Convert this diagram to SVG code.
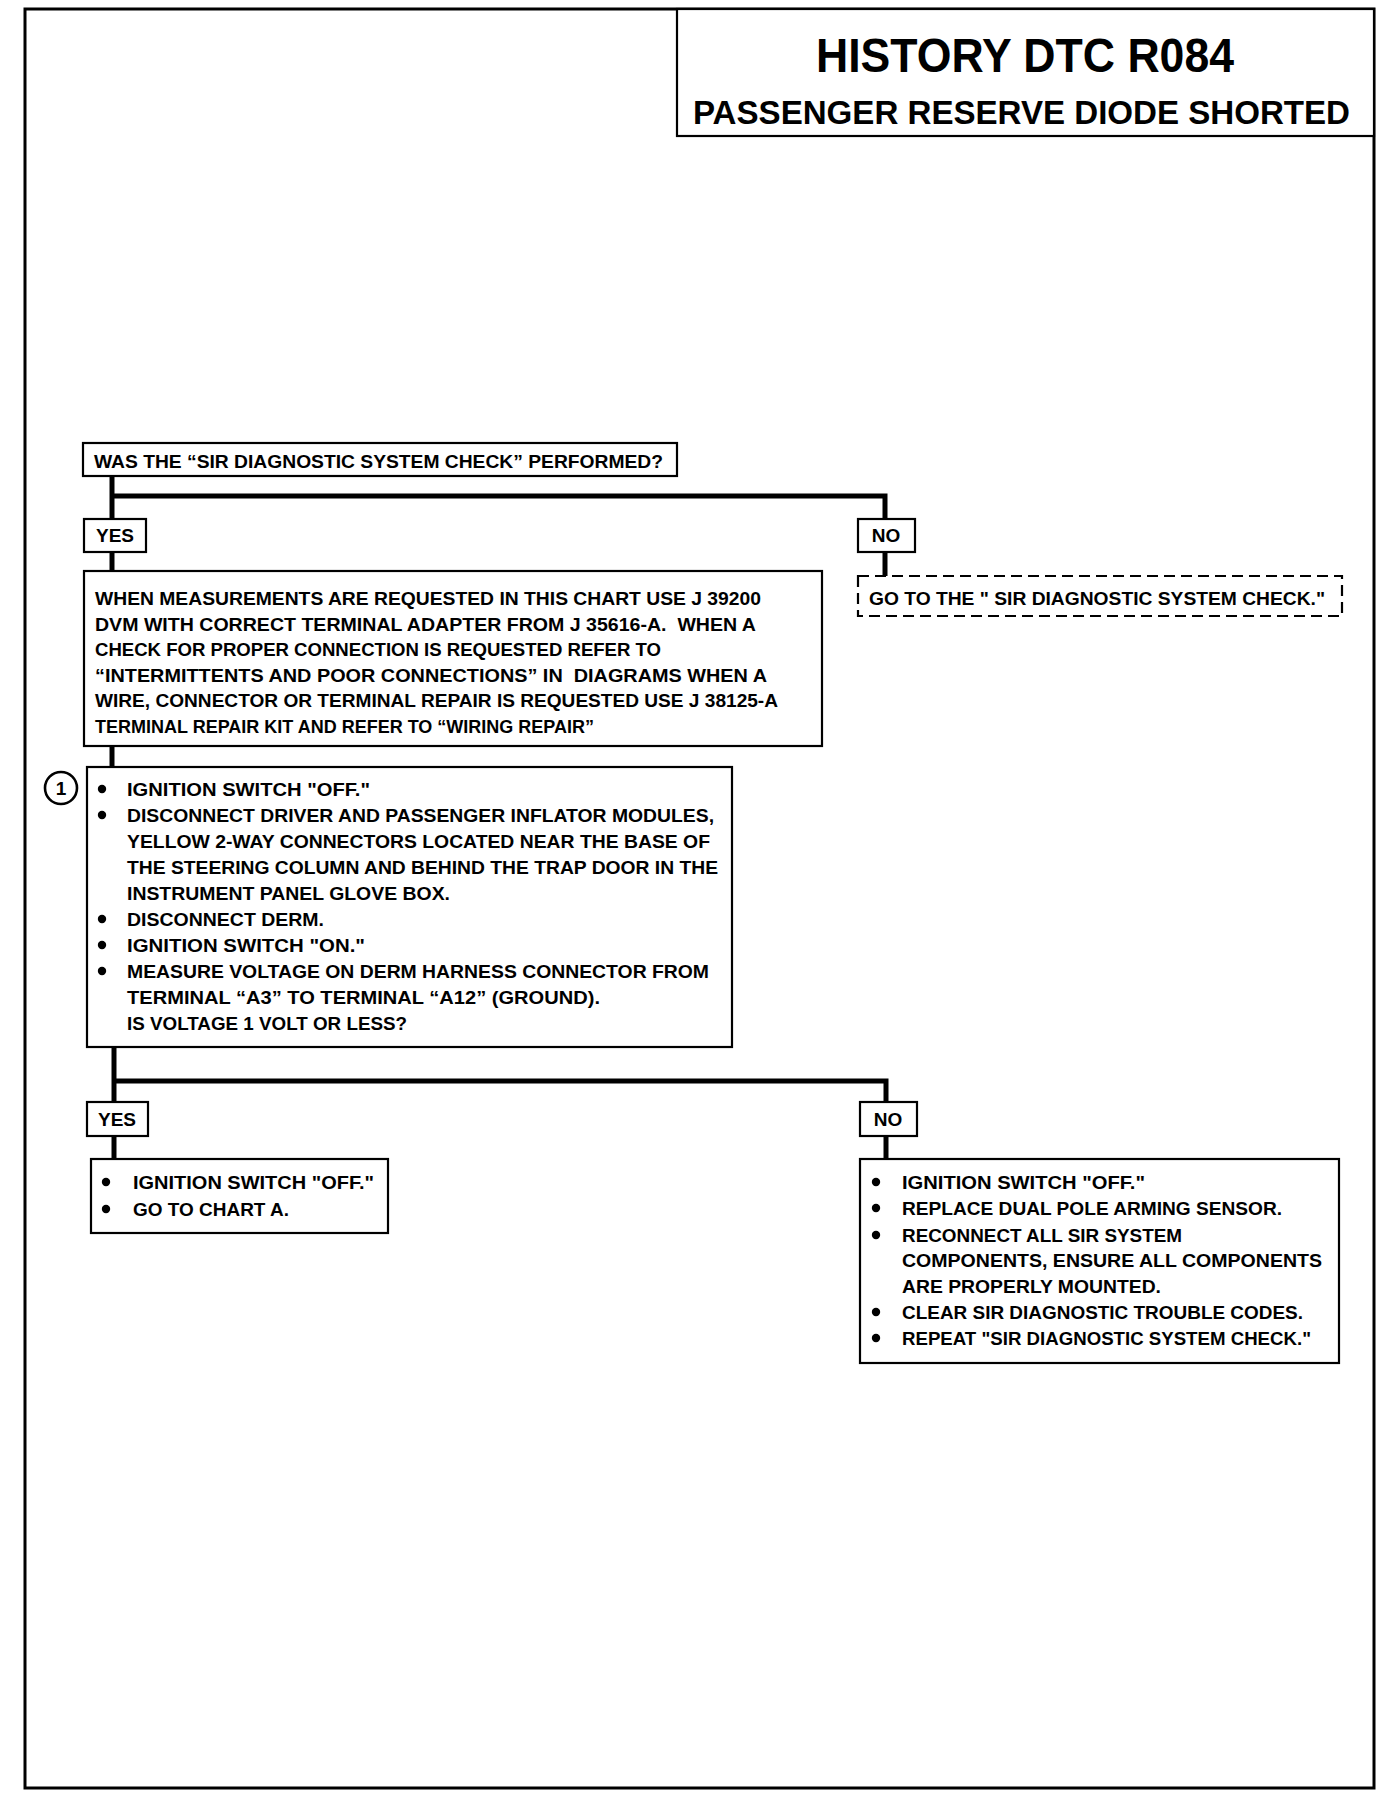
<svg xmlns="http://www.w3.org/2000/svg" width="1392" height="1800" viewBox="0 0 1392 1800">
<style>
.box{fill:#fff;stroke:#000;stroke-width:2.2}
.dash{fill:#fff;stroke:#000;stroke-width:2.2;stroke-dasharray:11 6}
.conn{fill:none;stroke:#000;stroke-width:5;stroke-linejoin:miter;stroke-linecap:butt}
.t{font-family:"Liberation Sans",Arial,sans-serif;font-weight:bold;font-size:19px;fill:#000}
.lbl{font-family:"Liberation Sans",Arial,sans-serif;font-weight:bold;font-size:19px;fill:#000;text-anchor:middle}
.h1{font-family:"Liberation Sans",Arial,sans-serif;font-weight:bold;font-size:48px;fill:#000}
.h2{font-family:"Liberation Sans",Arial,sans-serif;font-weight:bold;font-size:34px;fill:#000}
.dot{fill:#000}
</style>
<rect x="0" y="0" width="1392" height="1800" fill="#fff"/>
<rect x="25" y="9" width="1349" height="1779" fill="none" stroke="#000" stroke-width="3"/>

<g id="title">
<rect x="677" y="9" width="697" height="127" class="box"/>
<text class="h1" x="816" y="72" textLength="418" lengthAdjust="spacingAndGlyphs">HISTORY DTC R084</text>
<text class="h2" x="693" y="124" textLength="657" lengthAdjust="spacingAndGlyphs">PASSENGER RESERVE DIODE SHORTED</text>
</g>

<g id="connectors">
<path class="conn" d="M112 476 V519"/>
<path class="conn" d="M112 496 H885 V519"/>
<path class="conn" d="M112 552 V571"/>
<path class="conn" d="M885 552 V576"/>
<path class="conn" d="M112 746 V767"/>
<path class="conn" d="M114 1047 V1102"/>
<path class="conn" d="M114 1081 H886 V1102"/>
<path class="conn" d="M114 1136 V1159"/>
<path class="conn" d="M886 1136 V1159"/>
</g>

<g id="q1">
<rect x="83" y="443" width="594" height="33" class="box"/>
<text class="t" x="94" y="468" textLength="569" lengthAdjust="spacingAndGlyphs">WAS THE “SIR DIAGNOSTIC SYSTEM CHECK” PERFORMED?</text>
</g>

<g id="yes1">
<rect x="84" y="519" width="62" height="33" class="box"/>
<text class="lbl" x="115" y="542">YES</text>
</g>

<g id="no1">
<rect x="858" y="519" width="57" height="33" class="box"/>
<text class="lbl" x="886" y="542">NO</text>
</g>

<g id="goto-check">
<rect x="858" y="576" width="484" height="40" class="dash"/>
<text class="t" x="869" y="605" textLength="456" lengthAdjust="spacingAndGlyphs">GO TO THE " SIR DIAGNOSTIC SYSTEM CHECK."</text>
</g>

<g id="info">
<rect x="84" y="571" width="738" height="175" class="box"/>
<text class="t" x="95" y="605" textLength="666" lengthAdjust="spacingAndGlyphs">WHEN MEASUREMENTS ARE REQUESTED IN THIS CHART USE J 39200</text>
<text class="t" x="95" y="631" textLength="661" lengthAdjust="spacingAndGlyphs" xml:space="preserve">DVM WITH CORRECT TERMINAL ADAPTER FROM J 35616-A.  WHEN A</text>
<text class="t" x="95" y="656" textLength="566" lengthAdjust="spacingAndGlyphs">CHECK FOR PROPER CONNECTION IS REQUESTED REFER TO</text>
<text class="t" x="95" y="682" textLength="672" lengthAdjust="spacingAndGlyphs" xml:space="preserve">“INTERMITTENTS AND POOR CONNECTIONS” IN  DIAGRAMS WHEN A</text>
<text class="t" x="95" y="707" textLength="683" lengthAdjust="spacingAndGlyphs">WIRE, CONNECTOR OR TERMINAL REPAIR IS REQUESTED USE J 38125-A</text>
<text class="t" x="95" y="733" textLength="499" lengthAdjust="spacingAndGlyphs">TERMINAL REPAIR KIT AND REFER TO “WIRING REPAIR”</text>
</g>

<g id="step1">
<circle cx="61" cy="788" r="16" fill="#fff" stroke="#000" stroke-width="2.6"/>
<text class="lbl" x="61" y="795">1</text>
<rect x="87" y="767" width="645" height="280" class="box"/>
<circle class="dot" cx="102" cy="789" r="4.2"/>
<circle class="dot" cx="102" cy="815" r="4.2"/>
<circle class="dot" cx="102" cy="919" r="4.2"/>
<circle class="dot" cx="102" cy="945" r="4.2"/>
<circle class="dot" cx="102" cy="971" r="4.2"/>
<text class="t" x="127" y="796" textLength="243" lengthAdjust="spacingAndGlyphs">IGNITION SWITCH "OFF."</text>
<text class="t" x="127" y="822" textLength="587" lengthAdjust="spacingAndGlyphs">DISCONNECT DRIVER AND PASSENGER INFLATOR MODULES,</text>
<text class="t" x="127" y="848" textLength="583" lengthAdjust="spacingAndGlyphs">YELLOW 2-WAY CONNECTORS LOCATED NEAR THE BASE OF</text>
<text class="t" x="127" y="874" textLength="591" lengthAdjust="spacingAndGlyphs">THE STEERING COLUMN AND BEHIND THE TRAP DOOR IN THE</text>
<text class="t" x="127" y="900" textLength="323" lengthAdjust="spacingAndGlyphs">INSTRUMENT PANEL GLOVE BOX.</text>
<text class="t" x="127" y="926" textLength="197" lengthAdjust="spacingAndGlyphs">DISCONNECT DERM.</text>
<text class="t" x="127" y="952" textLength="238" lengthAdjust="spacingAndGlyphs">IGNITION SWITCH "ON."</text>
<text class="t" x="127" y="978" textLength="582" lengthAdjust="spacingAndGlyphs">MEASURE VOLTAGE ON DERM HARNESS CONNECTOR FROM</text>
<text class="t" x="127" y="1004" textLength="473" lengthAdjust="spacingAndGlyphs">TERMINAL “A3” TO TERMINAL “A12” (GROUND).</text>
<text class="t" x="127" y="1030" textLength="280" lengthAdjust="spacingAndGlyphs">IS VOLTAGE 1 VOLT OR LESS?</text>
</g>

<g id="yes2">
<rect x="87" y="1102" width="61" height="34" class="box"/>
<text class="lbl" x="117" y="1126">YES</text>
</g>

<g id="no2">
<rect x="860" y="1102" width="57" height="34" class="box"/>
<text class="lbl" x="888" y="1126">NO</text>
</g>

<g id="yes-result">
<rect x="91" y="1159" width="297" height="74" class="box"/>
<circle class="dot" cx="106" cy="1182" r="4.2"/>
<circle class="dot" cx="106" cy="1209" r="4.2"/>
<text class="t" x="133" y="1189" textLength="241" lengthAdjust="spacingAndGlyphs">IGNITION SWITCH "OFF."</text>
<text class="t" x="133" y="1216" textLength="156" lengthAdjust="spacingAndGlyphs">GO TO CHART A.</text>
</g>

<g id="no-result">
<rect x="860" y="1159" width="479" height="204" class="box"/>
<circle class="dot" cx="876" cy="1182" r="4.2"/>
<circle class="dot" cx="876" cy="1208" r="4.2"/>
<circle class="dot" cx="876" cy="1235" r="4.2"/>
<circle class="dot" cx="876" cy="1312" r="4.2"/>
<circle class="dot" cx="876" cy="1338" r="4.2"/>
<text class="t" x="902" y="1189" textLength="243" lengthAdjust="spacingAndGlyphs">IGNITION SWITCH "OFF."</text>
<text class="t" x="902" y="1215" textLength="380" lengthAdjust="spacingAndGlyphs">REPLACE DUAL POLE ARMING SENSOR.</text>
<text class="t" x="902" y="1242" textLength="280" lengthAdjust="spacingAndGlyphs">RECONNECT ALL SIR SYSTEM</text>
<text class="t" x="902" y="1267" textLength="420" lengthAdjust="spacingAndGlyphs">COMPONENTS, ENSURE ALL COMPONENTS</text>
<text class="t" x="902" y="1293" textLength="259" lengthAdjust="spacingAndGlyphs">ARE PROPERLY MOUNTED.</text>
<text class="t" x="902" y="1319" textLength="401" lengthAdjust="spacingAndGlyphs">CLEAR SIR DIAGNOSTIC TROUBLE CODES.</text>
<text class="t" x="902" y="1345" textLength="409" lengthAdjust="spacingAndGlyphs">REPEAT "SIR DIAGNOSTIC SYSTEM CHECK."</text>
</g>
</svg>
